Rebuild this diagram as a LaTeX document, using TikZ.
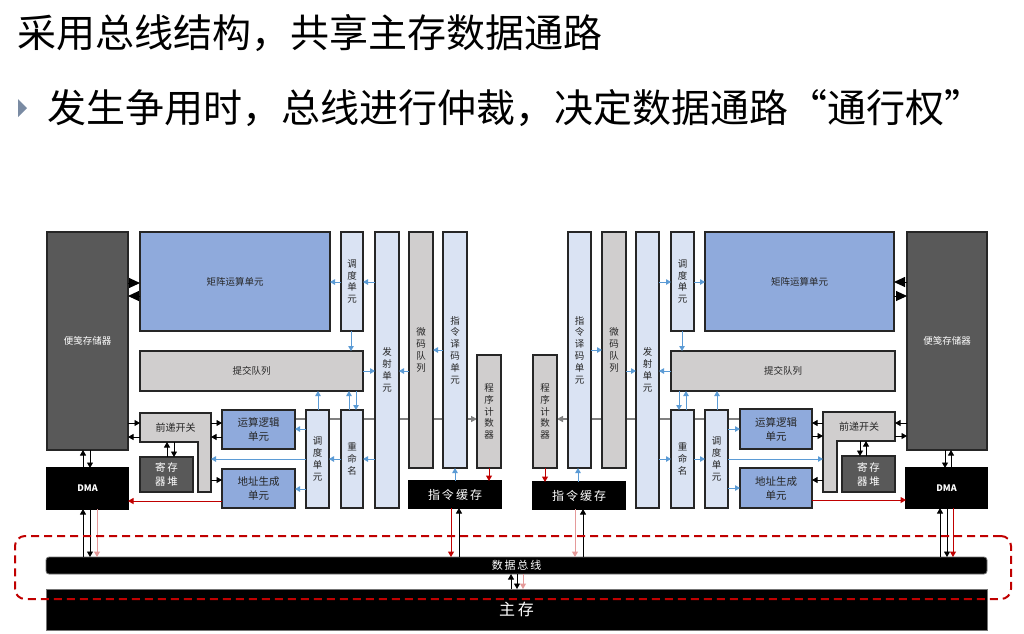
\documentclass[tikz,border=0pt]{standalone}
\usepackage{fontspec}
\setmainfont{Noto Sans CJK SC}
\usetikzlibrary{arrows.meta}
\pgfdeclarelayer{back}
\pgfsetlayers{back,main}

\definecolor{matblue}{HTML}{8FAADC}
\definecolor{lblue}{HTML}{DAE3F3}
\definecolor{lgray}{HTML}{D0CECE}
\definecolor{dgray}{HTML}{595959}
\definecolor{flow}{HTML}{5B9BD5}
\definecolor{dred}{HTML}{C00000}
\definecolor{lred}{HTML}{E59A9A}
\definecolor{bulletc}{HTML}{7A8BA3}

% a box given by its corners (x1,y1)-(x2,y2), in pixel units with y downwards
\newcommand\blk[7]{\node[#1, anchor=north west, minimum width={(#5-#3)*1pt}, minimum height={(#6-#4)*1pt}] (#2) at (#3,#4) {#7};}
% horizontal connector at height #4, vertical connector at abscissa #4
\newcommand\hc[4]{\draw[#1] (#2 |- 0,#4) -- (#3 |- 0,#4);}
\newcommand\vc[4]{\draw[#1] (#2 -| #4,0) -- (#3 -| #4,0);}

\tikzset{
  unit/.style={draw=black!85, line width=1.1pt, inner sep=0pt, outer sep=0pt, text=black!85,
    font=\fontsize{9.5}{11.8}\selectfont, align=center},
  mat/.style={unit, fill=matblue},
  pale/.style={unit, fill=lblue},
  grey/.style={unit, fill=lgray},
  dark/.style={unit, fill=dgray, text=white},
  blackbox/.style={unit, fill=black, draw=black, text=white},
  twoline/.style={font=\fontsize{10.5}{14}\selectfont},
  label/.style={inner sep=0pt, outer sep=0pt, text=black!85, font=\fontsize{10}{12}\selectfont, align=center},
  busbar/.style={unit, fill=black, draw=black!55, line width=0.8pt, rounded corners=3pt, text=white,
    font=\fontsize{11}{12}\selectfont},
  membar/.style={unit, fill=black, draw=black!55, line width=0.8pt, text=white, font=\fontsize{16}{18}\selectfont},
  arbbox/.style={inner sep=0pt, outer sep=0pt, draw=dred, line width=2pt, dash pattern=on 8pt off 5pt, rounded corners=10pt},
  fl/.style={draw=flow, line width=1pt, -{Triangle[length=5pt,width=5.5pt]}},
  bk/.style={draw=black, line width=0.9pt, -{Triangle[length=5.5pt,width=6pt]}},
  rd/.style={draw=dred, line width=1pt, -{Triangle[length=5.5pt,width=6pt]}},
  rdp/.style={draw=lred, line width=1pt, -{Triangle[length=5.5pt,width=6pt]}},
  big/.style={draw=black, line width=1pt, -{Triangle[length=11pt,width=10pt]}},
  gline/.style={draw=black!50, line width=1.3pt, -{Triangle[length=6pt,width=6pt]}},
  fwdshape/.style={fill=lgray, draw=black!85, line width=1.1pt},
  heading/.style={anchor=west, inner sep=0pt, font=\fontsize{39}{42}\selectfont},
}

\begin{document}
\begin{tikzpicture}[x=1pt,y=-1pt]
\useasboundingbox (0,0) rectangle (1024,633);

% headings
\node[heading] (title) at (17,33) {采用总线结构，共享主存数据通路};
\fill[bulletc] (18,99) -- (27,108) -- (18,117) -- cycle;
\node[heading] (point) at (47,108) {发生争用时，总线进行仲裁，决定数据通路“通行权”};

% ---------------- left core ----------------
\blk{dark}{spL}{47}{232}{128}{450}{便笺存储器}
\blk{mat}{matL}{140}{232}{330}{331}{矩阵运算单元}
\blk{pale}{dsTL}{341}{232}{363}{331}{调\\度\\单\\元}
\blk{pale}{issL}{375}{232}{399}{508}{发\\射\\单\\元}
\blk{grey}{ucL}{409}{232}{433}{468}{微\\码\\队\\列}
\blk{pale}{decL}{443}{232}{467}{468}{指\\令\\译\\码\\单\\元}
\blk{grey}{pcL}{477}{355}{501}{468}{程\\序\\计\\数\\器}
\blk{blackbox}{icL}{409}{481}{501}{508}{\fontsize{12}{13}\selectfont 指\,令\,缓\,存}
\blk{grey}{cmtL}{140}{351}{363}{391}{提交队列}
\blk{mat, twoline}{aluL}{222}{410}{295}{449}{运算逻辑\\单元}
\blk{mat, twoline}{agL}{222}{469}{295}{508}{地址生成\\单元}
\blk{pale}{dsBL}{306}{410}{329}{508}{调\\度\\单\\元}
\blk{pale}{renL}{341}{410}{363}{508}{重\\命\\名}
\filldraw[fwdshape] (140,413) -- (211,413) -- (211,492) -- (198,492) -- (198,442) -- (140,442) -- cycle;
\blk{label}{fwL}{140}{413}{211}{442}{前递开关}
\blk{dark, twoline}{rfL}{140}{457}{193}{492}{寄\,存\\器\,堆}
\blk{blackbox}{dmaL}{47}{468}{128}{509}{\fontsize{9}{10}\selectfont\bfseries DMA}

% ---------------- right core ----------------
\blk{grey}{pcR}{533}{355}{557}{468}{程\\序\\计\\数\\器}
\blk{pale}{decR}{568}{232}{591}{468}{指\\令\\译\\码\\单\\元}
\blk{grey}{ucR}{602}{232}{626}{468}{微\\码\\队\\列}
\blk{pale}{issR}{636}{232}{659}{508}{发\\射\\单\\元}
\blk{pale}{dsTR}{671}{232}{694}{331}{调\\度\\单\\元}
\blk{mat}{matR}{705}{232}{894}{331}{矩阵运算单元}
\blk{dark}{spR}{907}{232}{987}{450}{便笺存储器}
\blk{grey}{cmtR}{671}{351}{895}{391}{提交队列}
\blk{blackbox}{icR}{533}{482}{625}{509}{\fontsize{12}{13}\selectfont 指\,令\,缓\,存}
\blk{pale}{renR}{671}{410}{694}{508}{重\\命\\名}
\blk{pale}{dsBR}{705}{410}{728}{508}{调\\度\\单\\元}
\blk{mat, twoline}{aluR}{740}{409}{812}{449}{运算逻辑\\单元}
\blk{mat, twoline}{agR}{740}{468}{812}{508}{地址生成\\单元}
\filldraw[fwdshape] (823,412) -- (895,412) -- (895,441) -- (837,441) -- (837,492) -- (823,492) -- cycle;
\blk{label}{fwR}{823}{412}{895}{441}{前递开关}
\blk{dark, twoline}{rfR}{842}{456}{895}{492}{寄\,存\\器\,堆}
\blk{blackbox}{dmaR}{906}{468}{987}{508}{\fontsize{9}{10}\selectfont\bfseries DMA}

% ---------------- shared bus and memory ----------------
\blk{busbar}{bus}{46}{557}{987}{574}{数\,据\,总\,线}
\blk{membar}{mem}{46}{589}{987}{630}{主\,存}

% ---------------- left connectors ----------------
\hc{big}{spL.east}{matL.west}{283}
\hc{big}{matL.west}{spL.east}{296}
\hc{fl}{issL.west}{dsTL.east}{282}
\hc{fl}{dsTL.west}{matL.east}{282}
\vc{fl}{dsTL.south}{cmtL.north}{351}
\hc{fl}{cmtL.east}{issL.west}{371}
\hc{fl}{ucL.west}{issL.east}{371}
\hc{fl}{decL.west}{ucL.east}{350}
\vc{fl}{icL.north}{decL.south}{455}
\vc{rd}{pcL.south}{icL.north}{489}
\begin{pgfonlayer}{back}
\hc{gline}{aluL.east}{pcL.west}{419}
\hc{gline}{aluR.west}{pcR.east}{419}
\end{pgfonlayer}
\vc{fl}{dsBL.north}{cmtL.south}{318}
\vc{fl}{renL.north}{cmtL.south}{349}
\vc{fl}{cmtL.south}{renL.north}{356}
\hc{fl}{issL.west}{renL.east}{459}
\hc{fl}{renL.west}{dsBL.east}{459}
\hc{fl}{dsBL.west}{aluL.east}{429}
\hc{fl}{dsBL.west}{agL.east}{489}
\hc{fl}{dsBL.west}{fwL.east}{459}
\hc{bk}{fwL.east}{aluL.west}{423}
\hc{bk}{aluL.west}{fwL.east}{437}
\hc{bk}{fwL.east}{agL.west}{480}
\hc{bk}{spL.east}{fwL.west}{423}
\hc{bk}{fwL.west}{spL.east}{437}
\vc{bk}{rfL.north}{fwL.south}{167}
\vc{bk}{fwL.south}{rfL.north}{174}
\vc{bk}{dmaL.north}{spL.south}{83}
\vc{bk}{spL.south}{dmaL.north}{90}
\hc{rd}{agL.west}{dmaL.east}{501}
\vc{bk}{bus.north}{dmaL.south}{83}
\vc{bk}{dmaL.south}{bus.north}{90}
\vc{rdp}{dmaL.south}{bus.north}{97}
\vc{rd}{icL.south}{bus.north}{451}
\vc{bk}{bus.north}{icL.south}{459}

% ---------------- right connectors ----------------
\hc{big}{spR.west}{matR.east}{282}
\hc{big}{matR.east}{spR.west}{296}
\hc{fl}{issR.east}{dsTR.west}{282}
\hc{fl}{dsTR.east}{matR.west}{282}
\vc{fl}{dsTR.south}{cmtR.north}{682}
\hc{fl}{cmtR.west}{issR.east}{371}
\hc{fl}{ucR.east}{issR.west}{371}
\hc{fl}{decR.east}{ucR.west}{350}
\vc{fl}{icR.north}{decR.south}{578}
\vc{rd}{pcR.south}{icR.north}{545}
\vc{fl}{cmtR.south}{renR.north}{679}
\vc{fl}{renR.north}{cmtR.south}{686}
\vc{fl}{dsBR.north}{cmtR.south}{717}
\hc{fl}{issR.east}{renR.west}{459}
\hc{fl}{renR.east}{dsBR.west}{459}
\hc{fl}{dsBR.east}{aluR.west}{429}
\hc{fl}{dsBR.east}{agR.west}{488}
\hc{fl}{dsBR.east}{fwR.west}{459}
\hc{bk}{fwR.west}{aluR.east}{423}
\hc{bk}{aluR.east}{fwR.west}{436}
\hc{bk}{fwR.west}{agR.east}{480}
\hc{bk}{spR.west}{fwR.east}{423}
\hc{bk}{fwR.east}{spR.west}{436}
\vc{bk}{fwR.south}{rfR.north}{860}
\vc{bk}{rfR.north}{fwR.south}{866}
\vc{bk}{spR.south}{dmaR.north}{945}
\vc{bk}{dmaR.north}{spR.south}{951}
\hc{rd}{agR.east}{dmaR.west}{500}
\vc{bk}{bus.north}{dmaR.south}{940}
\vc{bk}{dmaR.south}{bus.north}{947}
\vc{rd}{dmaR.south}{bus.north}{953}
\vc{rdp}{icR.south}{bus.north}{575}
\vc{bk}{bus.north}{icR.south}{583}

% bus <-> main memory
\vc{bk}{mem.north}{bus.south}{511}
\vc{bk}{bus.south}{mem.north}{517}
\vc{rdp}{bus.south}{mem.north}{523}

% arbitration boundary
\blk{arbbox}{arb}{15}{536}{1011}{599}{}
\end{tikzpicture}
\end{document}
